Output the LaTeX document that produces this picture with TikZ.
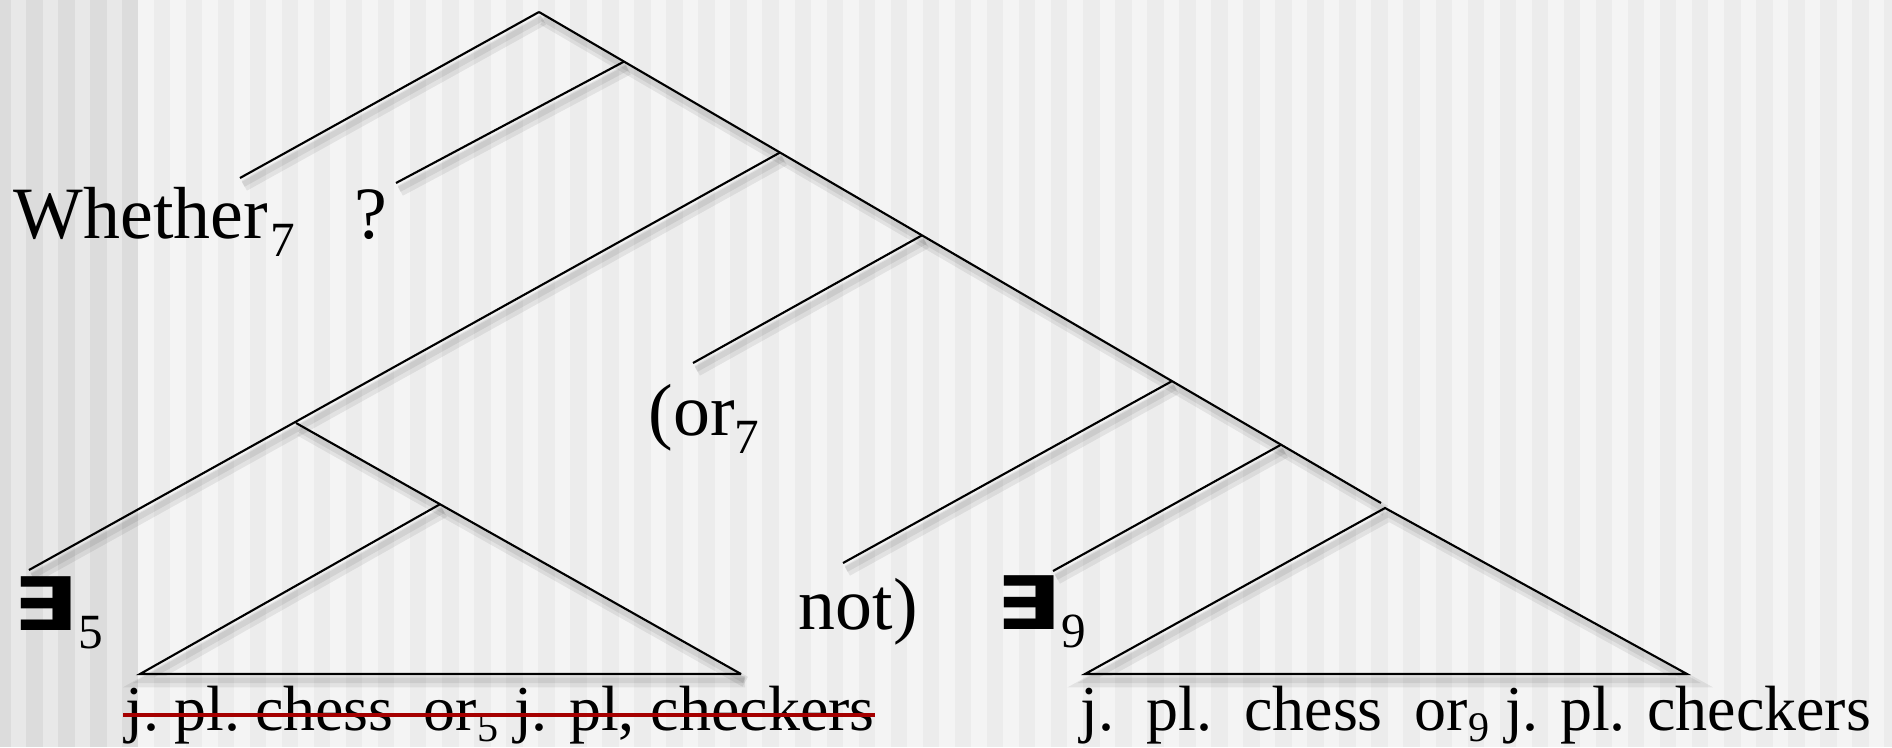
\documentclass[tikz,border=0pt]{standalone}
\usepackage{fontspec}
\usepackage{graphicx}
\setmainfont{Liberation Serif}
\newfontfamily\exfont{DejaVu Sans}
\usetikzlibrary{calc}
\definecolor{bgdark}{HTML}{DCDCDC}
\definecolor{bglite}{HTML}{E8E8E8}
\definecolor{bgmain}{HTML}{ECECEC}
\definecolor{bgband}{HTML}{F4F4F4}
\definecolor{strikered}{HTML}{A50000}
\newcommand\idx[1]{\raisebox{-0.18cm}{\fontsize{14}{14}\selectfont #1}}
\newcommand\lidx[1]{\raisebox{-0.11cm}{\fontsize{12}{12}\selectfont #1}}
\newcommand\exq{\scalebox{1.3}[1]{\exfont\bfseries ∃}}

\begin{document}
\begin{tikzpicture}[
  br/.style={line width=0.6pt,
    preaction={draw=black,opacity=0.07,line width=3.2pt,transform canvas={shift={(1.2pt,-2.2pt)}}},
    preaction={draw=black,opacity=0.07,line width=1.6pt,transform canvas={shift={(0.9pt,-1.8pt)}}}},
  lbl/.style={anchor=base west,inner sep=0pt,font=\fontsize{21}{24}\selectfont},
  leaf/.style={anchor=base west,inner sep=0pt,font=\fontsize{18.2}{22}\selectfont},
  strike/.style={draw=strikered,line width=1.2pt}
]
  \useasboundingbox (0,0) rectangle (18.92,7.47);
  \fill[bgmain] (0,0) rectangle (18.92,7.47);
  \fill[bgdark] (0,0) rectangle (1.38,7.47);
  \foreach \i in {0,...,3} \fill[bglite] ({0.11+0.32*\i},0) rectangle ++(0.15,7.47);
  \foreach \i in {0,...,54} \fill[bgband] ({1.38+0.3205*\i},0) rectangle ++(0.155,7.47);

  \coordinate (root) at (5.39,7.35);
  \coordinate (nA)   at (6.24,6.854);
  \coordinate (nB)   at (7.80,5.945);
  \coordinate (nE)   at (9.22,5.117);
  \coordinate (nF)   at (11.72,3.659);
  \coordinate (nG)   at (12.81,3.023);
  \coordinate (spEnd) at (13.81,2.44);
  \coordinate (nC)   at (2.96,3.24);
  \coordinate (tAl)  at (1.40,0.73);
  \coordinate (tAr)  at (7.41,0.73);
  \coordinate (nD)   at ($(nC)!0.3236!(tAr)$);
  \coordinate (tBtop) at (13.85,2.39);
  \coordinate (tBl)  at (10.85,0.73);
  \coordinate (tBr)  at (16.87,0.73);
  \coordinate (whTip) at (2.40,5.69);
  \coordinate (qmTip) at (3.96,5.64);
  \coordinate (orTip) at (6.93,3.84);
  \coordinate (ntTip) at (8.43,1.84);
  \coordinate (e5Tip) at (0.29,1.77);
  \coordinate (e9Tip) at (10.53,1.76);

  \node[lbl](wh) at (0.13,5.09) {Whether\hspace{0.03cm}\idx{7}};
  \node[lbl](qm) at (3.54,5.09) {?};
  \node[lbl](or) at (6.48,3.12) {(or\idx{7}};
  \node[lbl](nt) at (7.98,1.18) {not)};
  \node[lbl](e5) at (0.12,1.17) {\exq\idx{5}};
  \node[lbl](e9) at (9.95,1.18) {\exq\idx{9}};
  \node[leaf](lfA) at (1.25,0.17) {j.\hspace{0.15cm}pl.\hspace{0.15cm}chess\hspace{0.3cm}or\lidx{5} j. pl, checkers};
  \node[leaf](lfB) at (10.80,0.17) {j.\ \ pl.\ \ chess\ \ or\lidx{9} j. pl. checkers};

  \draw[br](root)--(spEnd);
  \draw[br](root)--(whTip);
  \draw[br](nA)--(qmTip);
  \draw[br](nB)--(e5Tip);
  \draw[br](nE)--(orTip);
  \draw[br](nF)--(ntTip);
  \draw[br](nG)--(e9Tip);
  \draw[br](nC)--(tAr);
  \draw[br](nD)--(tAl)--(tAr);
  \draw[br](tBl)--(tBtop)--(tBr)--cycle;
  \draw[strike]($(lfA.base west)+(-0.02,0.15)$)--($(lfA.base east)+(0,0.15)$);
\end{tikzpicture}
\end{document}
